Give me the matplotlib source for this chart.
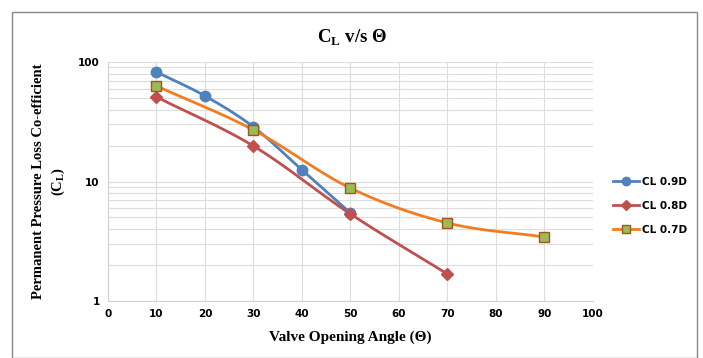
import numpy as np
import matplotlib.pyplot as plt
from matplotlib.ticker import FixedLocator, LogLocator, NullFormatter, FuncFormatter
from matplotlib.patches import Rectangle

# data
angle_09 = [10, 20, 30, 40, 50]
cl_09 = [82.5, 52, 28.6, 12.5, 5.45]
angle_08 = [10, 30, 50, 70]
cl_08 = [51, 19.8, 5.35, 1.68]
angle_07 = [10, 30, 50, 70, 90]
cl_07 = [63, 27, 8.8, 4.5, 3.43]

x_ticks = [0, 10, 20, 30, 40, 50, 60, 70, 80, 90, 100]


def smooth(xs, ys, n=30):
    # Catmull-Rom curve through the points in (x, log y), like a smoothed line
    x = np.asarray(xs, float)
    y = np.log10(ys)
    px = np.concatenate([[2 * x[0] - x[1]], x, [2 * x[-1] - x[-2]]])
    py = np.concatenate([[2 * y[0] - y[1]], y, [2 * y[-1] - y[-2]]])
    ox, oy = [], []
    t = np.linspace(0, 1, n)
    for i in range(1, len(px) - 2):
        for p, out in ((px, ox), (py, oy)):
            p0, p1, p2, p3 = p[i - 1], p[i], p[i + 1], p[i + 2]
            out.extend(0.5 * (2 * p1 + (-p0 + p2) * t
                              + (2 * p0 - 5 * p1 + 4 * p2 - p3) * t ** 2
                              + (-p0 + 3 * p1 - 3 * p2 + p3) * t ** 3))
    return np.array(ox), 10 ** np.array(oy)


plt.rcParams['font.family'] = ['DejaVu Sans']
serif = 'Liberation Serif'

fig = plt.figure(figsize=(7.03, 3.58), dpi=100)
fig.patches.append(Rectangle((0.017, 0.0), 0.975, 0.966, transform=fig.transFigure,
                             fill=False, edgecolor='#888888', linewidth=1))
ax = fig.add_axes([0.1536, 0.1592, 0.6899, 0.6676])

series = [
    (angle_09, cl_09, 'CL 0.9D', '#4F81BD', 'o', '#4F81BD', '#4F81BD', 7.5),
    (angle_08, cl_08, 'CL 0.8D', '#C0504D', 'D', '#C0504D', '#C0504D', 6.5),
    (angle_07, cl_07, 'CL 0.7D', '#F07D22', 's', '#9BBB59', '#A0561B', 6.5),
]
for xs, ys, lab, col, mk, fc, ec, ms in series:
    sx, sy = smooth(xs, ys)
    ax.plot(sx, sy, color=col, linewidth=2, zorder=3)
    ax.plot(xs, ys, linestyle='none', marker=mk, markersize=ms,
            markerfacecolor=fc, markeredgecolor=ec, zorder=4)

ax.set_yscale('log')
ax.set_ylim(1, 100)
ax.set_xlim(0, 100)
ax.xaxis.set_major_locator(FixedLocator(x_ticks))
ax.yaxis.set_major_locator(FixedLocator([1, 10, 100]))
ax.yaxis.set_minor_locator(LogLocator(base=10, subs=np.arange(2, 10)))
ax.yaxis.set_major_formatter(FuncFormatter(lambda v, p: '%g' % v))
ax.yaxis.set_minor_formatter(NullFormatter())
ax.grid(True, which='both', color='#dddddd', linewidth=0.8)
ax.set_axisbelow(True)
ax.tick_params(which='both', length=0, labelsize=7.5, pad=6)
for lbl in ax.get_xticklabels() + ax.get_yticklabels():
    lbl.set_fontweight('bold')
for s in ['top', 'right']:
    ax.spines[s].set_visible(False)
for s in ['left', 'bottom']:
    ax.spines[s].set_color('#d0d0d0')

ax.set_xlabel('Valve Opening Angle (Θ)', fontfamily=serif, fontweight='bold',
              fontsize=11, labelpad=8)
ax.set_ylabel('Permanent Pressure Loss Co-efficient\n(C$_\\mathregular{L}$)',
              fontfamily=serif, fontweight='bold', fontsize=10.5, labelpad=8,
              linespacing=1.4)
fig.text(0.50, 0.895, 'C$_\\mathregular{L}$ v/s Θ', fontfamily=serif,
         fontweight='bold', fontsize=13.5, ha='center', va='center')

handles = []
for xs, ys, lab, col, mk, fc, ec, ms in series:
    h, = ax.plot([], [], color=col, linewidth=2, marker=mk, markersize=ms * 0.8,
                 markerfacecolor=fc, markeredgecolor=ec, label=lab)
    handles.append(h)
leg = fig.legend(handles=handles, loc='center left', bbox_to_anchor=(0.858, 0.425),
                 frameon=False, handlelength=2.5, handletextpad=0.3,
                 labelspacing=1.35, prop={'size': 7.5, 'weight': 'bold'})

fig.savefig('out.png', dpi=100)
